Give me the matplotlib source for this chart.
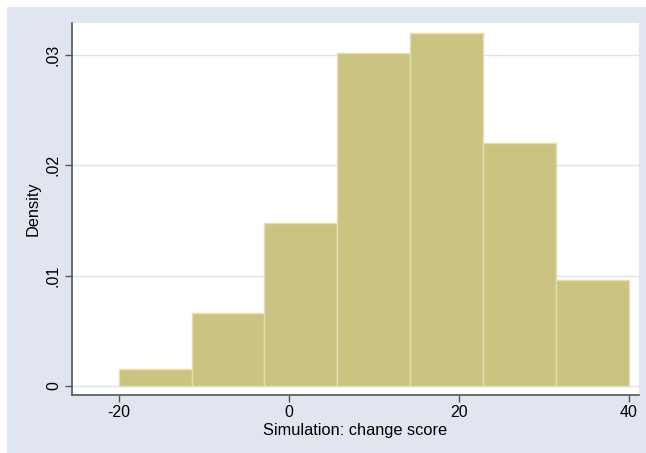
import matplotlib
matplotlib.use("Agg")
import matplotlib.pyplot as plt
from matplotlib.patches import Rectangle

# histogram: 7 bins from -20 to 40, density values
bin_edges = [-20 + i * 60 / 7 for i in range(8)]
density = [0.00154, 0.0066, 0.01478, 0.0302, 0.0320, 0.0220, 0.0096]
yticks = [0, 0.01, 0.02, 0.03]
ytick_labels = ["0", ".01", ".02", ".03"]
xticks = [-20, 0, 20, 40]

plt.rcParams["font.family"] = ["Liberation Sans", "DejaVu Sans"]

W, H = 646, 453
fig = plt.figure(figsize=(W / 100, H / 100), dpi=100)
fig.patch.set_facecolor("white")
fig.patches.append(Rectangle((7 / W, 0), 1 - 7 / W, 1 - 7 / H, transform=fig.transFigure,
                             facecolor="#e1e5ef", edgecolor="none", zorder=-10))

ax = fig.add_axes([72 / W, 1 - 395 / H, (639 - 72) / W, (395 - 23) / H])
ax.set_zorder(1)
ax.set_facecolor("white")

widths = [bin_edges[i + 1] - bin_edges[i] for i in range(7)]
ax.bar(bin_edges[:-1], density, width=widths, align="edge",
       color="#cbc381", edgecolor="#e4e0b4", linewidth=1.0, zorder=3)

ax.set_xlim(-25.5, 41.2)
ax.set_ylim(-0.00082, 0.0329)
ax.set_yticks(yticks)
ax.set_yticklabels(ytick_labels, rotation=90, va="center")
ax.set_xticks(xticks)
ax.set_xticklabels([str(t) for t in xticks])
ax.grid(axis="y", color="#dfe3ee", linewidth=1.0, zorder=1)
ax.tick_params(direction="out", length=5, width=1, color="#555555", labelsize=11.5,
               labelcolor="black")
ax.tick_params(axis="y", pad=3)
ax.tick_params(axis="x", pad=2)

for s in ["top", "right"]:
    ax.spines[s].set_visible(False)
for s in ["left", "bottom"]:
    ax.spines[s].set_color("#555555")
    ax.spines[s].set_linewidth(1.2)

ax.set_xlabel("Simulation: change score", fontsize=11.8, labelpad=2)
ax.set_ylabel("Density", fontsize=11.8, labelpad=4)

fig.savefig("out.png", dpi=100)
